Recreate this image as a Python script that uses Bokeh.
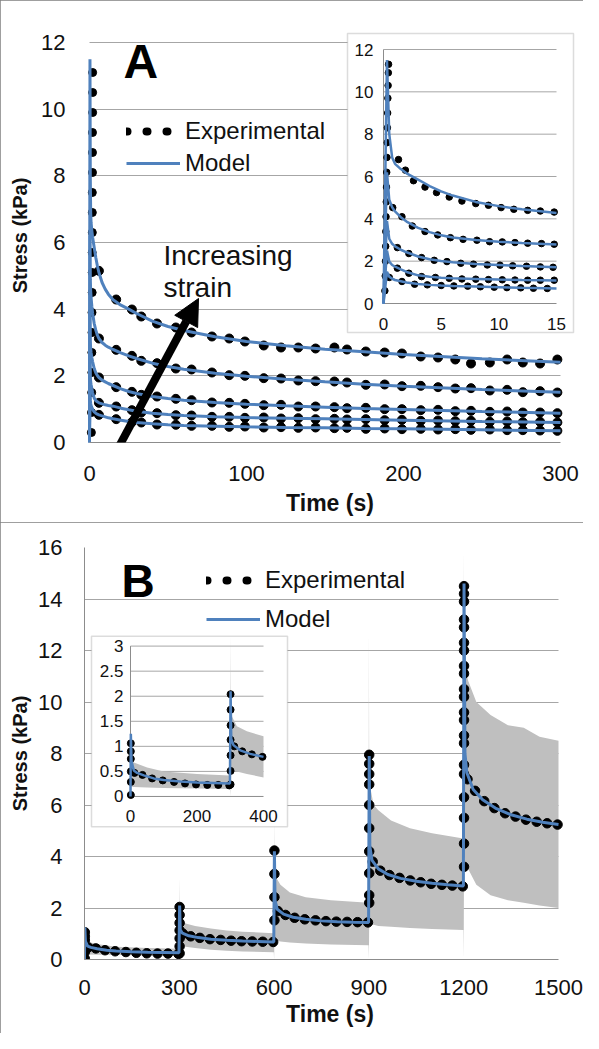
from bokeh.plotting import figure
from bokeh.layouts import column
from bokeh.models import (Range1d, FixedTicker, Legend, LegendItem, Label, Arrow,
                          NormalHead, BoxAnnotation)
from bokeh.core.properties import value
from bokeh.embed import file_html
from bokeh.resources import INLINE

# ---------------------------------------------------------------- Panel A data
a_model_t = [0, 0.3, 0.5, 0.75, 1, 1.5, 2, 3, 4, 5, 6, 8, 10, 12, 15, 20, 25, 30, 40, 50,
             60, 80, 100, 125, 150, 175, 200, 250, 300]
a_model_1 = [0, 11.5, 8.0, 6.9, 6.6, 6.35, 6.15, 5.85, 5.55, 5.3, 5.1, 4.8, 4.6, 4.45, 4.28,
             4.12, 4.0, 3.87, 3.64, 3.48, 3.36, 3.17, 3.03, 2.9, 2.8, 2.72, 2.64, 2.51, 2.41]
a_model_2 = [0, 6.2, 4.9, 4.55, 4.35, 4.08, 3.87, 3.57, 3.37, 3.22, 3.12, 3.0, 2.92, 2.86, 2.79,
             2.69, 2.6, 2.52, 2.38, 2.28, 2.2, 2.08, 1.99, 1.9, 1.82, 1.75, 1.69, 1.59, 1.51]
a_model_3 = [0, 3.9, 3.05, 2.82, 2.7, 2.54, 2.42, 2.22, 2.09, 2.01, 1.95, 1.87, 1.82, 1.77, 1.71,
             1.61, 1.53, 1.47, 1.38, 1.32, 1.27, 1.2, 1.15, 1.1, 1.06, 1.02, 0.99, 0.93, 0.88]
a_model_4 = [0, 2.5, 1.98, 1.82, 1.74, 1.61, 1.49, 1.33, 1.26, 1.22, 1.19, 1.16, 1.13, 1.11, 1.09,
             1.03, 0.98, 0.94, 0.88, 0.84, 0.81, 0.77, 0.75, 0.73, 0.71, 0.69, 0.67, 0.63, 0.6]
a_model_5 = [0, 1.5, 1.27, 1.17, 1.11, 1.05, 0.99, 0.92, 0.88, 0.85, 0.83, 0.8, 0.77, 0.74, 0.71,
             0.67, 0.63, 0.6, 0.56, 0.53, 0.51, 0.49, 0.47, 0.45, 0.44, 0.42, 0.41, 0.38, 0.35]

a_exp_t = [6, 17, 27, 33, 43, 55, 65, 78, 89, 99, 111, 122, 133, 144, 156, 164, 176, 188, 199,
           211, 222, 233, 243, 255, 266, 276, 287, 298]
a_exp_1 = [5.15, 4.29, 3.99, 3.78, 3.57, 3.45, 3.3, 3.18, 3.12, 3.03, 2.91, 2.85, 2.85, 2.82,
           2.85, 2.79, 2.73, 2.7, 2.67, 2.58, 2.55, 2.49, 2.37, 2.4, 2.49, 2.4, 2.37, 2.49]
a_exp_2 = [3.12, 2.78, 2.6, 2.45, 2.38, 2.22, 2.19, 2.1, 2.02, 2.0, 1.93, 1.92, 1.86, 1.84,
           1.83, 1.8, 1.73, 1.74, 1.69, 1.7, 1.66, 1.62, 1.63, 1.56, 1.58, 1.51, 1.54, 1.5]
a_exp_3 = [1.95, 1.66, 1.52, 1.43, 1.38, 1.31, 1.27, 1.2, 1.19, 1.16, 1.12, 1.13, 1.08, 1.08,
           1.06, 1.03, 1.04, 1.0, 1.0, 0.97, 0.98, 0.94, 0.95, 0.92, 0.93, 0.9, 0.9, 0.88]
a_exp_4 = [1.19, 1.08, 0.97, 0.9, 0.88, 0.82, 0.81, 0.77, 0.77, 0.74, 0.75, 0.72, 0.73, 0.7,
           0.71, 0.69, 0.7, 0.67, 0.68, 0.65, 0.66, 0.64, 0.65, 0.62, 0.63, 0.61, 0.62, 0.6]
a_exp_5 = [0.83, 0.7, 0.61, 0.6, 0.54, 0.53, 0.5, 0.5, 0.47, 0.48, 0.45, 0.46, 0.44, 0.45,
           0.43, 0.44, 0.41, 0.42, 0.4, 0.41, 0.39, 0.4, 0.38, 0.39, 0.37, 0.37, 0.36, 0.35]
a_ramp_t = [1.2, 1.3, 1.4, 1.5, 1.5, 1.6, 1.6, 1.7, 1.7, 1.7, 1.8, 1.8, 1.8, 1.9, 1.9, 1.9,
            2.0, 2.0, 2.0]
a_ramp_v = [0.3, 0.9, 1.5, 2.1, 2.7, 3.3, 3.9, 4.5, 5.1, 5.7, 6.3, 6.9, 7.5, 8.1, 8.7, 9.3,
            9.9, 10.5, 11.1]

ia_t1 = [1.3, 1.9, 2.6, 3.6, 4.6, 5.7, 6.8, 8.0, 9.1, 10.2, 11.3, 12.5, 13.6, 14.8]
ia_v1 = [6.8, 6.3, 5.8, 5.5, 5.24, 5.03, 4.84, 4.72, 4.64, 4.53, 4.45, 4.4, 4.37, 4.32]
ia_t2 = [0.8, 1.6, 2.5, 3.6, 4.7, 5.8, 6.9, 8.1, 9.2, 10.3, 11.4, 12.5, 13.7, 14.8]
ia_v2 = [4.53, 4.1, 3.66, 3.4, 3.24, 3.11, 3.03, 2.99, 2.92, 2.91, 2.88, 2.85, 2.83, 2.8]
ia_t3 = [1.2, 2.2, 3.3, 4.4, 5.5, 6.7, 7.8, 9.0, 10.1, 11.2, 12.4, 13.6, 14.7]
ia_v3 = [2.64, 2.36, 2.17, 2.04, 1.98, 1.9, 1.86, 1.82, 1.81, 1.78, 1.76, 1.73, 1.71]
ia_t4 = [1.2, 2.2, 3.3, 4.5, 5.7, 6.8, 8.0, 9.1, 10.3, 11.4, 12.5, 13.6, 14.8]
ia_v4 = [1.67, 1.43, 1.27, 1.23, 1.19, 1.16, 1.15, 1.13, 1.12, 1.11, 1.1, 1.1, 1.1]
ia_t5 = [0.5, 1.6, 2.7, 3.8, 5.0, 6.1, 7.3, 8.4, 9.6, 10.7, 11.9, 13.0, 14.2]
ia_v5 = [1.23, 1.04, 0.91, 0.88, 0.85, 0.83, 0.82, 0.79, 0.77, 0.75, 0.74, 0.72, 0.71]
ia_ramp_t = [0.12, 0.15, 0.17, 0.19, 0.2, 0.22, 0.24, 0.26, 0.28, 0.3, 0.32, 0.34, 0.36,
             0.38, 0.4, 0.42, 0.44]
ia_ramp_v = [0.6, 1.3, 2.0, 2.7, 3.4, 4.1, 4.8, 5.5, 6.2, 6.9, 7.6, 8.3, 9.0, 9.7, 10.3,
             10.9, 11.3]

# ---------------------------------------------------------------- Panel B data
b_model_t = [0, 1, 3, 10, 20, 40, 70, 100, 150, 200, 250, 299,
             301, 303, 310, 330, 360, 400, 450, 500, 550, 599,
             601, 603, 610, 630, 660, 700, 750, 800, 850, 899,
             901, 903, 910, 930, 960, 1000, 1050, 1100, 1150, 1199,
             1201, 1204, 1210, 1230, 1260, 1300, 1350, 1400, 1450, 1500]
b_model_v = [0, 1.25, 0.7, 0.52, 0.47, 0.42, 0.36, 0.33, 0.3, 0.28, 0.27, 0.26,
             2.1, 1.15, 1.02, 0.92, 0.85, 0.79, 0.75, 0.72, 0.7, 0.68,
             4.2, 2.3, 1.95, 1.76, 1.64, 1.56, 1.5, 1.47, 1.45, 1.44,
             7.9, 4.4, 3.85, 3.52, 3.3, 3.15, 3.04, 2.96, 2.9, 2.85,
             14.6, 8.0, 7.25, 6.6, 6.2, 5.88, 5.62, 5.45, 5.33, 5.24]
b_exp_t = [12, 36, 65, 97, 131, 164, 197, 231, 264, 297,
           312, 336, 365, 397, 431, 464, 497, 531, 564, 597,
           612, 636, 665, 697, 731, 764, 797, 831, 864, 897,
           912, 936, 965, 997, 1031, 1064, 1097, 1131, 1164, 1197,
           1212, 1236, 1265, 1297, 1331, 1364, 1397, 1431, 1464, 1497]
b_exp_v = [0.47, 0.43, 0.36, 0.32, 0.29, 0.26, 0.24, 0.23, 0.23, 0.22,
           1.0, 0.9, 0.84, 0.79, 0.76, 0.73, 0.71, 0.7, 0.69, 0.68,
           1.88, 1.73, 1.62, 1.56, 1.52, 1.49, 1.47, 1.46, 1.45, 1.44,
           3.8, 3.45, 3.28, 3.17, 3.07, 3.0, 2.94, 2.9, 2.87, 2.84,
           7.0, 6.55, 6.15, 5.88, 5.68, 5.55, 5.43, 5.35, 5.29, 5.24]
b_ramp_starts = [1, 301, 601, 901, 1201]
b_ramp_vals = [[0.03, 0.29, 0.5, 0.75, 0.9, 1.06],
               [0.24, 0.51, 0.82, 1.13, 1.42, 1.73, 2.04],
               [1.52, 2.42, 3.32, 4.23],
               [2.2, 2.5, 3.35, 4.2, 5.1, 6.0, 6.8, 7.2, 7.6, 7.95],
               [3.6, 4.5, 5.5, 6.3, 7.2, 7.56, 8.4, 8.7, 9.3, 9.6, 10.2, 10.5, 11.1, 11.4,
                12.0, 12.3, 12.9, 13.2, 13.9, 14.2, 14.5]]
b_band_t = [0, 2, 10, 50, 100, 200, 299,
            300, 301, 320, 350, 400, 450, 500, 599,
            600, 601, 620, 650, 700, 780, 899,
            900, 901, 915, 930, 970, 1030, 1100, 1199,
            1200, 1201, 1205, 1215, 1240, 1285, 1340, 1390, 1440, 1500]
b_band_hi = [0.75, 0.74, 0.68, 0.58, 0.5, 0.45, 0.42,
             3.2, 1.65, 1.4, 1.3, 1.2, 1.13, 1.08, 1.02,
             5.6, 3.3, 2.9, 2.6, 2.42, 2.3, 2.2,
             12.9, 6.9, 6.0, 5.8, 5.4, 5.1, 4.9, 4.7,
             16.0, 11.8, 11.2, 10.8, 10.0, 9.5, 9.1, 9.0, 8.65, 8.5]
b_band_lo = [0.2, 0.2, 0.19, 0.18, 0.17, 0.16, 0.15,
             0.0, 0.55, 0.5, 0.45, 0.38, 0.34, 0.31, 0.28,
             0.0, 0.75, 0.7, 0.66, 0.62, 0.58, 0.55,
             0.0, 1.4, 1.35, 1.3, 1.27, 1.22, 1.18, 1.15,
             0.0, 4.0, 3.8, 3.5, 2.9, 2.5, 2.3, 2.2, 2.1, 2.0]

a_xticks = [0, 100, 200, 300]
a_yticks = [0, 2, 4, 6, 8, 10, 12]
ia_xticks = [0, 5, 10, 15]
ia_yticks = [0, 2, 4, 6, 8, 10, 12]
b_xticks = [0, 300, 600, 900, 1200, 1500]
b_yticks = [0, 2, 4, 6, 8, 10, 12, 14, 16]
ib_xticks = [0, 200, 400]
ib_yticks = [0, 0.5, 1, 1.5, 2, 2.5, 3]

# ---------------------------------------------------------------- styling
FONT = "Liberation Sans"
BLUE = "#4f81bd"
GRID = "#a6a6a6"
AXIS = "#8c8c8c"
BAND = "#bfbfbf"
TXT = "#111111"
W, HA, HB = 583, 522, 511
FL, FR = 84, 575          # common frame left / right (canvas px) of both panels


def lin(p0, p1, d0, d1):
    return lambda p: d0 + (p - p0) * (d1 - d0) / (p1 - p0)


def upto(ts, vs, tmax):
    keep = [(t, v) for t, v in zip(ts, vs) if t <= tmax]
    return [k[0] for k in keep], [k[1] for k in keep]


def style(p, xticks, yticks, xb, yb, x_so, y_so, xl_so, yl_so):
    xa, ya = p.xaxis[0], p.yaxis[0]
    xa.ticker = FixedTicker(ticks=xticks)
    ya.ticker = FixedTicker(ticks=yticks)
    xa.bounds = xb
    ya.bounds = yb
    for a in (xa, ya):
        a.axis_line_color = AXIS
        a.axis_line_width = 1
        a.major_tick_line_color = None
        a.minor_tick_line_color = None
        a.major_tick_out = 0
        a.major_tick_in = 0
        a.major_label_text_font = FONT
        a.major_label_text_font_size = "22px"
        a.major_label_text_color = TXT
        a.axis_label_text_font = FONT
        a.axis_label_text_font_style = "bold"
        a.axis_label_text_color = TXT
    xa.axis_label = "Time (s)"
    ya.axis_label = "Stress (kPa)"
    xa.axis_label_text_font_size = "23px"
    ya.axis_label_text_font_size = "20px"
    xa.major_label_standoff = x_so
    ya.major_label_standoff = y_so
    xa.axis_label_standoff = xl_so
    ya.axis_label_standoff = yl_so
    p.xgrid.visible = False
    p.ygrid.ticker = FixedTicker(ticks=[t for t in yticks if t > 0])
    p.ygrid.grid_line_color = GRID
    p.ygrid.grid_line_width = 1
    p.ygrid.cross_bounds = xb
    p.outline_line_color = None
    p.background_fill_color = "white"
    p.border_fill_color = "white"
    p.styles = {"outline": "2px solid #7f7f7f", "outline-offset": "-2px"}


def canvas_box(l, r, t, b, **kw):
    return BoxAnnotation(left=l, right=r, top=t, bottom=b, left_units="canvas",
                         right_units="canvas", top_units="canvas", bottom_units="canvas", **kw)


def inset_axes(sub, xticks, yticks, xmax, ymax, y_off, x_off, fs):
    gt = [t for t in yticks if t > 0]
    sub.segment(x0=0, x1=xmax, y0=gt, y1=gt, line_color=GRID, line_width=1, level="annotation")
    sub.segment(x0=[0, 0], y0=[0, 0], x1=[xmax, 0], y1=[0, ymax],
                line_color=AXIS, line_width=1, level="annotation")
    sub.text(x=0, y=yticks, text=[f"{t:g}" for t in yticks], x_offset=x_off,
             text_align="right", text_baseline="middle", text_font=value(FONT),
             text_font_size=value(fs), text_color=TXT, level="annotation")
    sub.text(x=xticks, y=0, text=[f"{t:g}" for t in xticks], y_offset=y_off,
             text_align="center", text_baseline="middle", text_font=value(FONT),
             text_font_size=value(fs), text_color=TXT, level="annotation")


def make_legend(dots_r, model_r, vx, vy, spacing):
    return Legend(items=[LegendItem(label="Experimental", renderers=[dots_r]),
                         LegendItem(label="Model", renderers=[model_r])],
                  location=(vx, vy), glyph_width=54, glyph_height=26, label_height=26,
                  label_standoff=5, spacing=spacing, padding=0, margin=0,
                  border_line_color=None, background_fill_alpha=0, label_text_font=FONT,
                  label_text_font_size="24px", label_text_color=TXT)


def text_label(x, y, text, size, bold=False, color=TXT):
    return Label(x=x, y=y, text=text, text_font=FONT, text_font_size=f"{size}px",
                 text_font_style="bold" if bold else "normal", text_baseline="middle",
                 text_align="left", text_color=color)


# ================================================================= Panel A
ax = lin(89, 560, 0, 300)       # canvas px -> time
ay = lin(442, 42, 0, 12)        # canvas px -> stress
A_TOP = 28

pA = figure(width=W, height=HA, x_range=Range1d(ax(FL), ax(FR)),
            y_range=Range1d(0, ay(A_TOP)), output_backend="svg", toolbar_location=None,
            min_border_left=FL, min_border_right=W - FR, min_border_top=A_TOP,
            min_border_bottom=HA - 442)
style(pA, a_xticks, a_yticks, (0, 300), (0, 12), 23, 19, 6, 7)
pA.yaxis[0].axis_line_color = None

for ev in (a_exp_1, a_exp_2, a_exp_3, a_exp_4, a_exp_5):
    pA.scatter(a_exp_t, ev, size=9, fill_color="black", line_color="black")
pA.scatter(a_ramp_t, a_ramp_v, size=8, fill_color="black", line_color="black")
model_lines = []
for mv in (a_model_1, a_model_2, a_model_3, a_model_4, a_model_5):
    model_lines.append(pA.line(a_model_t, mv, line_color=BLUE, line_width=3))

# legend proxy for the dotted "Experimental" symbol (no visible data)
dotsA = pA.line(x=a_exp_t[:2], y=[float("nan")] * 2, line_color="black", line_width=8,
                line_dash="1 19", line_cap="round")
pA.add_layout(make_legend(dotsA, model_lines[0], 126 - FL, 265, 4))

# text centres (canvas px): "A" cap 43-78, "Increasing" baseline 265, "strain" baseline 297
pA.add_layout(text_label(ax(123), ay(61), "A", 48, bold=True, color="black"))
pA.add_layout(text_label(ax(163), ay(255), "Increasing", 28))
pA.add_layout(text_label(ax(163), ay(287), "strain", 28))
pA.add_layout(Arrow(x_start=ax(118), y_start=ay(447), x_end=ax(198), y_end=ay(298),
                    line_width=8, line_color="black",
                    end=NormalHead(size=26, fill_color="black", line_color="black")))

pA.add_layout(canvas_box(347, 573, 33, 332, fill_color="white", fill_alpha=1,
                         line_color=AXIS, line_width=1.5, level="guide"))
subA = pA.subplot(x_source=Range1d(0, 15), y_source=Range1d(0, 12),
                  x_target=Range1d(ax(383), ax(556)), y_target=Range1d(ay(303), ay(49)))
inset_axes(subA, ia_xticks, ia_yticks, 15, 12, 20, -10, "17px")
for ts, vs in ((ia_t1, ia_v1), (ia_t2, ia_v2), (ia_t3, ia_v3), (ia_t4, ia_v4), (ia_t5, ia_v5),
               (ia_ramp_t, ia_ramp_v)):
    subA.scatter(ts, vs, size=6.5, fill_color="black", line_color="black", level="annotation")
for mv in (a_model_1, a_model_2, a_model_3, a_model_4, a_model_5):
    t15, v15 = upto(a_model_t, mv, 15)
    subA.line(t15, v15, line_color=BLUE, line_width=2.5, level="annotation")

# ================================================================= Panel B
B_T, B_B = 25, 437                        # frame top / bottom in panel-B canvas px
yB = lin(550, 972, B_T, B_B)              # reference layout px -> panel-B canvas px
bx = lin(84, 558, 0, 1500)
by = lin(B_B, B_T, 0, 16)

pB = figure(width=W, height=HB, x_range=Range1d(0, bx(FR)), y_range=Range1d(0, 16),
            output_backend="svg", toolbar_location=None,
            min_border_left=FL, min_border_right=W - FR, min_border_top=B_T,
            min_border_bottom=HB - B_B)
style(pB, b_xticks, b_yticks, (0, 1500), (0, 16), 20, 22, 3, 4)

b_ramp_t = [s for s, vals in zip(b_ramp_starts, b_ramp_vals) for _ in vals]
b_ramp_v = [v for vals in b_ramp_vals for v in vals]
bx_all = b_exp_t + b_ramp_t
by_all = b_exp_v + b_ramp_v

pB.varea(x=b_band_t, y1=b_band_lo, y2=b_band_hi, fill_color=BAND)
pB.scatter(bx_all, by_all, size=9.5, fill_color="black", line_color="black")
modelB = pB.line(b_model_t, b_model_v, line_color=BLUE, line_width=3)
dotsB = pB.line(x=b_exp_t[:2], y=[float("nan")] * 2, line_color="black", line_width=8,
                line_dash="1 19", line_cap="round")
pB.add_layout(make_legend(dotsB, modelB, 206 - FL, round(B_B - yB(623) - 15), 11))
pB.add_layout(text_label(bx(121), by(yB(584)), "B", 46, bold=True, color="black"))

pB.add_layout(canvas_box(91, 287, yB(641), yB(836), fill_color="white", fill_alpha=1,
                         line_color=AXIS, line_width=1.5, level="guide"))
subB = pB.subplot(x_source=Range1d(0, 400), y_source=Range1d(0, 3),
                  x_target=Range1d(bx(130), bx(263)),
                  y_target=Range1d(by(yB(805)), by(yB(651))))
inset_axes(subB, ib_xticks, ib_yticks, 400, 3, 20, -7, "17px")
bt4, blo4 = upto(b_band_t, b_band_lo, 400)
_, bhi4 = upto(b_band_t, b_band_hi, 400)
subB.varea(x=bt4, y1=blo4, y2=bhi4, fill_color=BAND, level="annotation")
ex4, ey4 = upto(bx_all, by_all, 400)
subB.scatter(ex4, ey4, size=7, fill_color="black", line_color="black", level="annotation")
mt4, mv4 = upto(b_model_t, b_model_v, 400)
subB.line(mt4, mv4, line_color=BLUE, line_width=2.5, level="annotation")

layout = column(pA, pB, spacing=0)
open("out.html", "w").write(file_html(layout, INLINE))
